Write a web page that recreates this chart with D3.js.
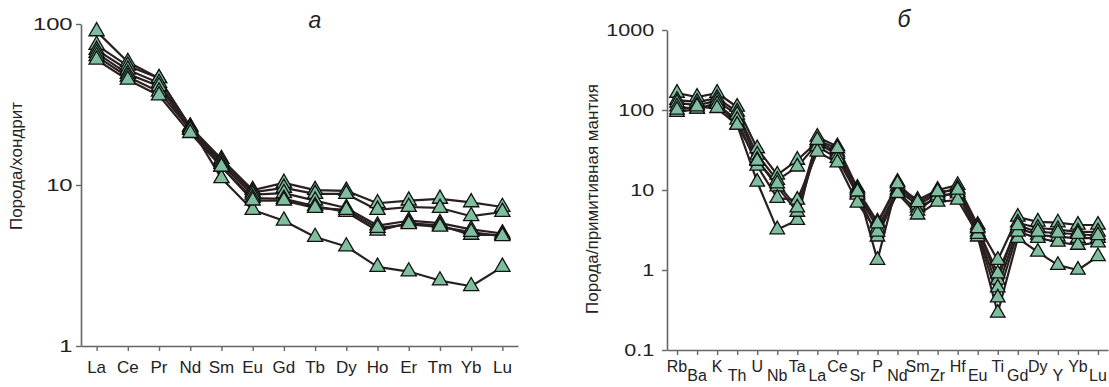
<!DOCTYPE html>
<html><head><meta charset="utf-8">
<script src="https://cdn.jsdelivr.net/npm/d3@7"></script>
<style>
html,body{margin:0;padding:0;background:#fff;}
svg{display:block;font-family:"Liberation Sans",Arial,sans-serif;}
</style></head>
<body>
<svg id="c" width="1109" height="387"></svg>
<script>
// ---- Panel а : REE, chondrite-normalised ----
const reeElements = ["La","Ce","Pr","Nd","Sm","Eu","Gd","Tb","Dy","Ho","Er","Tm","Yb","Lu"];
const reeS1 = [90, 58, 46, 23, 11.0, 7.0, 6.0, 4.75, 4.15, 3.1, 2.9, 2.55, 2.35, 3.1];
const reeS2 = [74, 55, 46, 23, 14.5, 9.3, 10.3, 9.3, 9.2, 7.7, 8.0, 8.2, 7.8, 7.3];
const reeS3 = [69, 52, 43, 22.5, 14, 9.0, 9.6, 8.8, 8.8, 7.0, 7.3, 7.2, 6.4, 6.8];
const reeS4 = [66, 49, 41, 22, 13.5, 8.7, 8.9, 8.0, 7.2, 5.6, 6.0, 5.8, 5.3, 5.0];
const reeS5 = [63, 47, 38, 22, 13, 8.3, 8.2, 7.4, 6.8, 5.2, 5.8, 5.6, 4.9, 4.9];
const reeS6 = [60, 45, 36, 21, 13, 8.0, 8.0, 7.2, 7.0, 5.4, 5.7, 5.5, 5.1, 4.8];
const reeSeries = [reeS1, reeS2, reeS3, reeS4, reeS5, reeS6];
const reeTicks = [1, 10, 100];

// ---- Panel б : multi-element, primitive-mantle-normalised ----
const pmElements = ["Rb","Ba","K","Th","U","Nb","Ta","La","Ce","Sr","P","Nd","Sm","Zr","Hf","Eu","Ti","Gd","Dy","Y","Yb","Lu"];
const pmS1 = [94, 103, 123, 65, 12.6, 3.2, 4.2, 46, 35, 10.6, 1.33, 12.6, 6.0, 8.1, 9.4, 2.6, 0.29, 2.5, 1.68, 1.15, 1.0, 1.48];
const pmS2 = [163, 145, 163, 109, 33, 15.5, 23.7, 40, 30, 10.0, 4.0, 11, 7.5, 10, 11.5, 3.65, 1.33, 4.6, 4.0, 3.9, 3.65, 3.65];
const pmS3 = [133, 126, 141, 95, 27.5, 13.3, 19.5, 38, 28, 9.0, 3.35, 10, 6.5, 9, 10.5, 3.4, 0.75, 3.9, 3.35, 3.2, 3.0, 3.0];
const pmS4 = [123, 115, 130, 87, 23.7, 11, 5.3, 35, 25, 8.7, 2.6, 9.5, 5.5, 8.5, 9, 3.0, 0.6, 3.35, 2.75, 2.6, 2.5, 2.5];
const pmS5 = [110, 103, 118, 75, 20, 7.9, 7.5, 30, 22, 6.9, 3.0, 9.1, 4.9, 7.1, 7.5, 2.8, 0.45, 3.0, 2.5, 2.24, 2.05, 2.2];
const pmS6 = [100, 110, 105, 65, 23, 12, 6.0, 42, 33, 9.5, 3.8, 12, 7.0, 9.5, 10, 3.3, 0.9, 3.6, 3.0, 2.9, 2.8, 2.7];
const pmSeries = [pmS1, pmS2, pmS3, pmS4, pmS5, pmS6];
const pmTicks = [0.1, 1, 10, 100, 1000];

const titleA = "Порода/хондрит";
const titleB = "Порода/примитивная мантия";
const letterA = "а";
const letterB = "б";

const svg = d3.select("#c");
const axisColor = "#666";
const lineColor = "#2a2020";
const fillColor = "#7fbf9f";

function panel(cfg){
  const g = svg.append("g");
  const x = d3.scalePoint().domain(cfg.cats).range([cfg.x0, cfg.x1]).padding(0.5);
  const y = d3.scaleLog().domain(cfg.ydom).range([cfg.y1, cfg.y0]);

  // y axis
  const ya = g.append("g").attr("transform", `translate(${cfg.x0},0)`)
    .call(d3.axisLeft(y).tickValues(cfg.yticks).tickSize(5).tickSizeOuter(0).tickFormat(d3.format("~g")));
  ya.select(".domain").attr("stroke", axisColor).attr("stroke-width", 1.6);
  ya.selectAll(".tick line").attr("stroke", axisColor).attr("stroke-width", 1.4);
  ya.selectAll(".tick text").attr("x", cfg.ylabX).attr("fill", "#222")
    .style("font-size", cfg.yfs + "px").attr("transform", `scale(${cfg.ysx},1)`);

  // x axis
  const xa = g.append("g").attr("transform", `translate(0,${cfg.y1})`)
    .call(d3.axisBottom(x).tickSize(5).tickSizeOuter(0));
  xa.select(".domain").attr("stroke", axisColor).attr("stroke-width", 1.6);
  xa.selectAll(".tick line").attr("stroke", axisColor).attr("stroke-width", 1.4);
  xa.selectAll(".tick text").remove();

  g.selectAll("text.xl").data(cfg.cats).enter().append("text").attr("class","xl")
    .attr("x", d => x(d)).attr("y", (d,i) => cfg.xlabY + (cfg.stagger && i % 2 === 1 ? cfg.stagger : 0))
    .attr("text-anchor", "middle").attr("fill", "#222")
    .style("font-size", cfg.xfs + "px").text(d => d);

  // series lines
  const line = d3.line().x((d,i) => x(cfg.cats[i])).y(d => y(d));
  g.selectAll("path.s").data(cfg.series).enter().append("path").attr("class","s")
    .attr("d", line).attr("fill", "none").attr("stroke", lineColor).attr("stroke-width", 2.2)
    .attr("stroke-linejoin", "round");

  // markers
  const tri = d3.symbol().type(d3.symbolTriangle).size(cfg.msize);
  cfg.series.forEach(s => {
    g.selectAll(null).data(s).enter().append("path")
      .attr("d", tri).attr("transform", (d,i) => `translate(${x(cfg.cats[i])},${y(d)})`)
      .attr("fill", fillColor).attr("stroke", "#111").attr("stroke-width", 1.3);
  });

  // y title
  g.append("text").attr("transform", `translate(${cfg.titleX},${cfg.titleY}) rotate(-90)`)
    .attr("text-anchor", "middle").attr("fill", "#222").style("font-size", cfg.tfs + "px").text(cfg.title);
  // panel letter
  g.append("text").attr("x", cfg.letX).attr("y", cfg.letY).attr("text-anchor","middle")
    .attr("fill", "#222").style("font-size", "23px").style("font-style", "italic").text(cfg.letter);
}

panel({cats: reeElements, series: reeSeries, ydom: [1,100], yticks: reeTicks,
  x0: 81, x1: 518, y0: 24, y1: 346, ylabX: -6, yfs: 17, ysx: 1.4,
  xlabY: 373, xfs: 17, stagger: 0, msize: 100,
  title: titleA, titleX: 22, titleY: 166, tfs: 17, letter: letterA, letX: 315, letY: 28});

panel({cats: pmElements, series: pmSeries, ydom: [0.1,1000], yticks: pmTicks,
  x0: 667, x1: 1108, y0: 30, y1: 350, ylabX: -9.5, yfs: 16, ysx: 1.35,
  xlabY: 372, xfs: 16, stagger: 9, msize: 92,
  title: titleB, titleX: 598, titleY: 199, tfs: 17, letter: letterB, letX: 904, letY: 27});
</script>
</body></html>
